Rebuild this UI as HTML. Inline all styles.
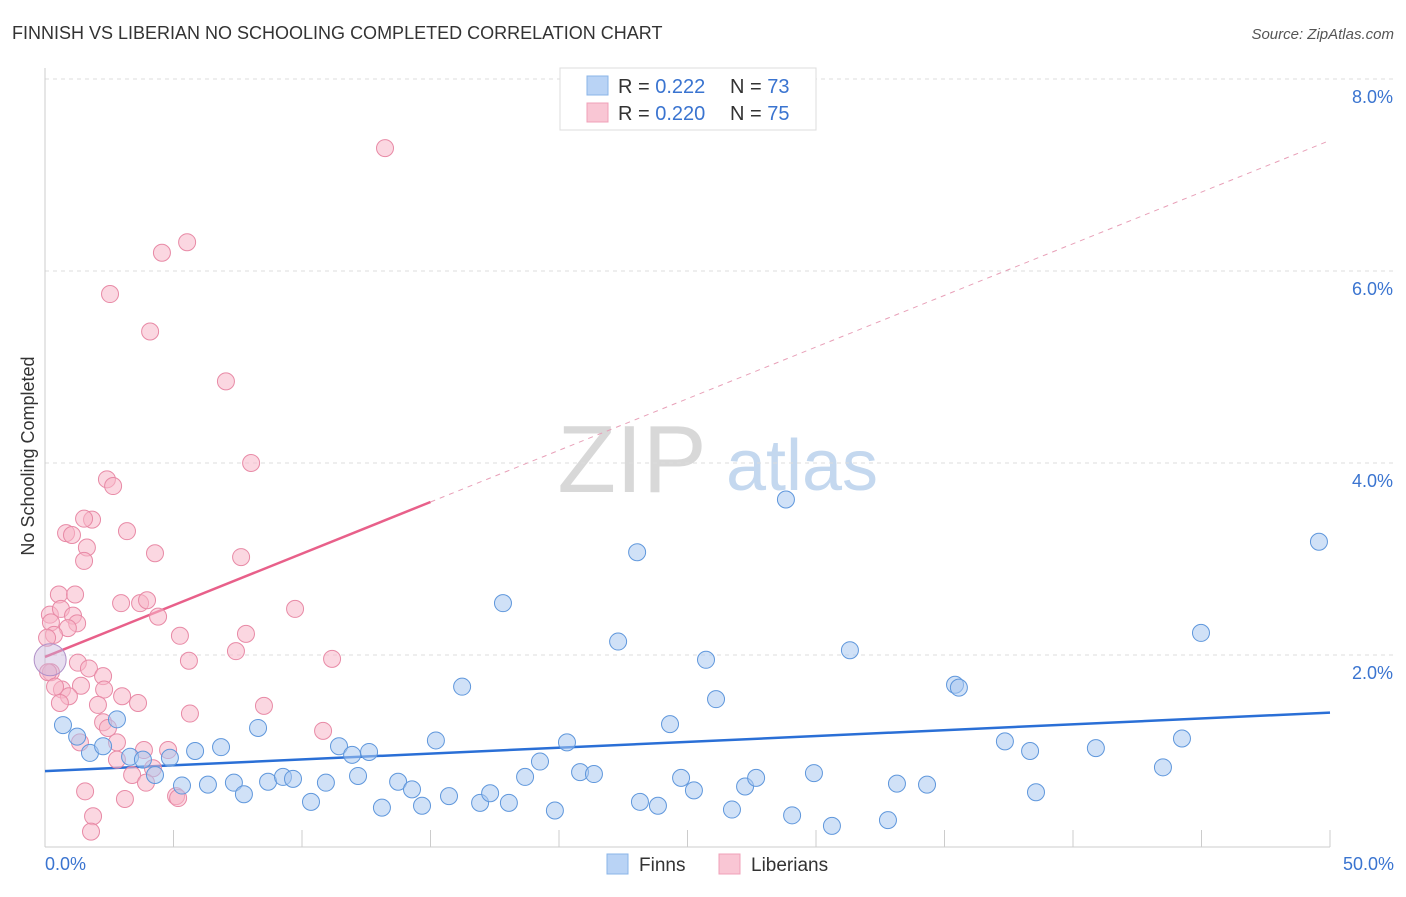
<!DOCTYPE html>
<html><head><meta charset="utf-8"><style>
body{margin:0;background:#fff;font-family:"Liberation Sans",sans-serif;}
svg text{font-family:"Liberation Sans",sans-serif;}
</style></head><body>
<svg id="chart" width="1406" height="892" xmlns="http://www.w3.org/2000/svg">
<text x="12" y="39" font-size="18" fill="#333">FINNISH VS LIBERIAN NO SCHOOLING COMPLETED CORRELATION CHART</text>
<text x="1394" y="39" font-size="15" fill="#555" font-style="italic" text-anchor="end">Source: ZipAtlas.com</text>
<text transform="translate(34,456) rotate(-90)" font-size="18" fill="#333" text-anchor="middle">No Schooling Completed</text>
<g>
<text x="632" y="492" font-size="96" fill="#d8d8d8" font-family="Liberation Serif" text-anchor="middle">ZIP</text>
<text x="802" y="490" font-size="72" fill="#c4d8ef" text-anchor="middle">atlas</text>
</g>
<g id="grid"></g><g id="axes"></g><g id="trend"></g><g id="pts"></g>
<g>
<rect x="560" y="68" width="256" height="62" fill="#fff" stroke="#ddd"/>
<rect x="587" y="76" width="21" height="19" fill="#b9d3f5" stroke="#8ab4e8"/>
<rect x="587" y="103" width="21" height="19" fill="#f9c6d4" stroke="#f0a0b8"/>
<text x="618" y="93" font-size="20" fill="#333">R = <tspan fill="#3a74d0">0.222</tspan></text>
<text x="730" y="93" font-size="20" fill="#333">N = <tspan fill="#3a74d0">73</tspan></text>
<text x="618" y="120" font-size="20" fill="#333">R = <tspan fill="#3a74d0">0.220</tspan></text>
<text x="730" y="120" font-size="20" fill="#333">N = <tspan fill="#3a74d0">75</tspan></text>
</g>
<g>
<rect x="607" y="854" width="21" height="20" fill="#b9d3f5" stroke="#8ab4e8"/>
<text x="639" y="871" font-size="19" fill="#333">Finns</text>
<rect x="719" y="854" width="21" height="20" fill="#f9c6d4" stroke="#f0a0b8"/>
<text x="751" y="871" font-size="19" fill="#333">Liberians</text>
</g>
</svg>
<script>
const yTicks=[2,4,6,8];
const xTickLabels=["0.0%","50.0%"];
const finnX=[0.70,1.25,1.75,2.26,2.80,3.31,3.81,4.28,4.86,5.33,5.84,6.34,6.85,7.35,7.74,8.29,8.68,9.26,9.65,10.35,10.93,11.44,11.95,12.18,12.61,13.11,13.74,14.28,14.67,15.21,15.72,16.23,16.93,17.32,18.05,17.82,18.68,19.26,19.84,20.31,20.82,21.36,22.30,23.04,23.15,23.85,24.32,24.75,25.25,25.72,26.11,26.73,27.24,27.67,28.83,29.07,29.92,30.62,31.32,32.80,33.15,34.32,35.41,35.56,37.35,38.33,38.56,40.89,43.50,44.24,44.98,49.57];
const finnY=[1.27,1.15,0.98,1.05,1.33,0.94,0.91,0.75,0.93,0.64,1.00,0.65,1.04,0.67,0.55,1.24,0.68,0.73,0.71,0.47,0.67,1.05,0.96,0.74,0.99,0.41,0.68,0.60,0.43,1.11,0.53,1.67,0.46,0.56,0.46,2.54,0.73,0.89,0.38,1.09,0.78,0.76,2.14,3.07,0.47,0.43,1.28,0.72,0.59,1.95,1.54,0.39,0.63,0.72,3.62,0.33,0.77,0.22,2.05,0.28,0.66,0.65,1.69,1.66,1.10,1.00,0.57,1.03,0.83,1.13,2.23,3.18];
const libX=[13.23,5.53,4.55,2.53,4.09,7.04,8.02,2.41,2.65,1.83,1.52,0.82,1.05,3.19,1.63,4.28,7.63,1.52,0.54,1.17,2.96,3.70,3.97,0.19,0.62,1.09,1.25,0.89,4.40,9.73,0.23,0.35,0.08,5.25,7.82,7.43,1.28,11.17,5.60,1.71,2.26,0.23,1.40,0.66,0.93,2.30,3.00,2.06,3.62,8.52,0.58,5.64,2.26,2.45,10.82,1.36,2.80,3.85,4.79,2.80,4.20,3.39,3.93,1.56,3.11,5.10,5.18,1.87,1.79,0.12,0.39];
const libY=[7.28,6.30,6.19,5.76,5.37,4.85,4.00,3.83,3.76,3.41,3.42,3.27,3.25,3.29,3.12,3.06,3.02,2.98,2.63,2.63,2.54,2.54,2.57,2.42,2.48,2.41,2.33,2.28,2.40,2.48,2.34,2.21,2.18,2.20,2.22,2.04,1.92,1.96,1.94,1.86,1.78,1.82,1.68,1.64,1.57,1.64,1.57,1.48,1.50,1.47,1.50,1.39,1.30,1.24,1.21,1.09,1.09,1.01,1.01,0.91,0.82,0.75,0.67,0.58,0.50,0.53,0.51,0.32,0.16,1.82,1.67];
const finnTrend=[0.79,1.40];
const libTrend=[1.98,7.36];
const ns="http://www.w3.org/2000/svg";
const sx=v=>45+v*25.7, sy=v=>847-v*96;
function mk(tag,attrs,parent){const e=document.createElementNS(ns,tag);for(const k in attrs)e.setAttribute(k,attrs[k]);document.getElementById(parent).appendChild(e);return e;}
yTicks.forEach(t=>{
 const l=mk('line',{x1:45,x2:1395,y1:sy(t),y2:sy(t),stroke:'#ddd','stroke-dasharray':'4,4'},'grid');
 
 
 const tx=mk('text',{x:1393,y:sy(t)+24,'font-size':18,fill:'#3a74d0','text-anchor':'end'},'grid');
 tx.textContent=t.toFixed(1)+'%';
 
 
});
mk('line',{x1:45,x2:45,y1:68,y2:847,stroke:'#ccc'},'axes');
mk('line',{x1:45,x2:1330,y1:847,y2:847,stroke:'#ccc'},'axes');
for(let i=0;i<=10;i++){const t=mk('line',{x1:sx(i*5),x2:sx(i*5),y1:847,y2:830,stroke:'#ccc'},'axes');
 
 }
[[0,'start',45],[50,'end',1394]].forEach((a,i)=>{const t=mk('text',{x:a[2],y:870,'font-size':18,fill:'#3a74d0','text-anchor':a[1]},'axes');t.textContent=xTickLabels[i];
 
 });
function pts(X,Y,fill,stroke,name){X.forEach((x,i)=>{const c=mk('circle',{cx:sx(x),cy:sy(Y[i]),r:8.5,fill:fill,'fill-opacity':0.55,stroke:stroke,'stroke-width':1},'pts');
 
 });}
pts(libX,libY,'#f7b6c9','#e88aa6','liberian-point');
pts(finnX,finnY,'#a9c8f0','#5f97dc','finn-point');
const big=mk('circle',{cx:sx(0.2),cy:sy(1.95),r:16,fill:'#c9b6dc','fill-opacity':0.45,stroke:'#b090c8'},'pts');


const bt=mk('line',{x1:sx(0),y1:sy(finnTrend[0]),x2:sx(50),y2:sy(finnTrend[1]),stroke:'#2a6fd6','stroke-width':2.5},'trend');


const lf=v=>libTrend[0]+(libTrend[1]-libTrend[0])*v/50;
const pt=mk('line',{x1:sx(0),y1:sy(lf(0)),x2:sx(15),y2:sy(lf(15)),stroke:'#e8608a','stroke-width':2.5},'trend');


const pd=mk('line',{x1:sx(15),y1:sy(lf(15)),x2:sx(50),y2:sy(lf(50)),stroke:'#e8a0b8','stroke-width':1,'stroke-dasharray':'5,5'},'trend');


</script>
</body></html>
